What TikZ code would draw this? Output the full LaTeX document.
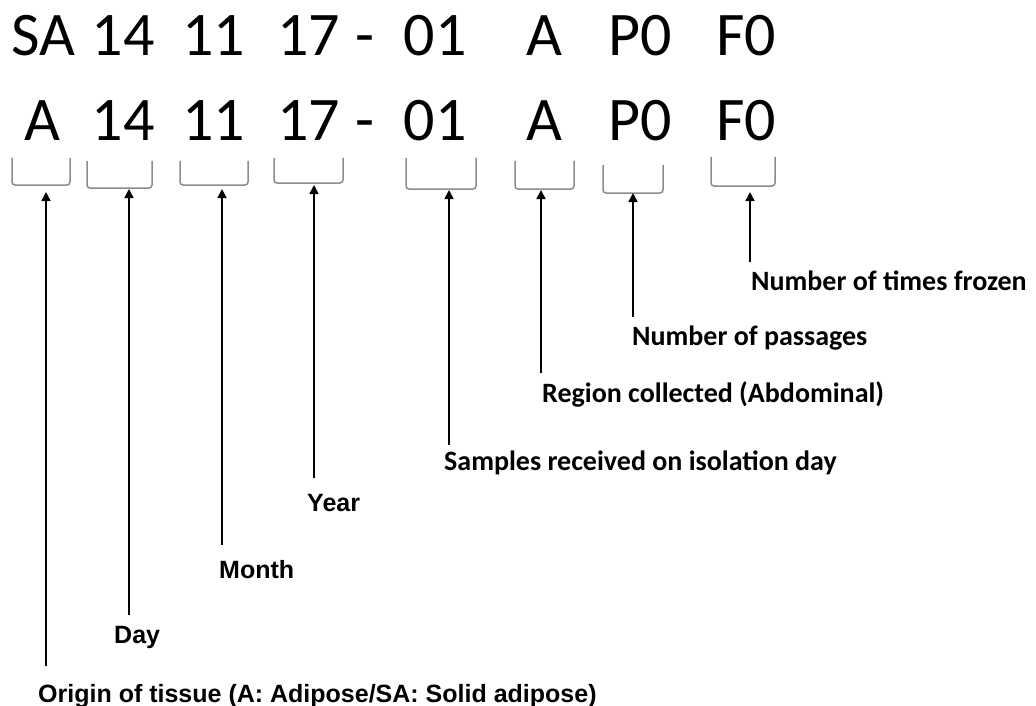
\documentclass[tikz,border=0pt]{standalone}
\usepackage{fontspec}
\setmainfont{Carlito}
\newfontfamily\arialf{Liberation Sans}
\usetikzlibrary{arrows.meta}
\begin{document}
\begin{tikzpicture}[x=1pt,y=-1pt,
  code/.style={inner sep=0pt,anchor=base,font=\fontsize{62}{62}\selectfont},
  brk/.style={draw=black!45,line width=1.5pt,rounded corners=3pt},
  arr/.style={draw=black,line width=1.6pt,-{Triangle[length=9pt,width=9pt]}},
  labc/.style={inner sep=0pt,anchor=base west,font=\fontsize{28}{28}\selectfont\bfseries},
  laba/.style={inner sep=0pt,anchor=base west,font=\arialf\fontsize{25}{25}\selectfont\bfseries}]
\useasboundingbox (0,0) rectangle (1036,706);
% row 1
\node[code] (r1a) at (43.5,56) {SA};
\node[code] (r1b) at (123,56) {14};
\node[code] (r1c) at (213.5,56) {11};
\node[code] (r1d) at (308.5,56) {17};
\node[code] (r1e) at (365,56) {-};
\node[code] (r1f) at (435,56) {01};
\node[code] (r1g) at (544.5,56) {A};
\node[code] (r1h) at (640,56) {P0};
\node[code] (r1i) at (746,56) {F0};
% row 2
\node[code] (r2a) at (42.5,141) {A};
\node[code] (r2b) at (123,141) {14};
\node[code] (r2c) at (213.5,141) {11};
\node[code] (r2d) at (308.5,141) {17};
\node[code] (r2e) at (365,141) {-};
\node[code] (r2f) at (435,141) {01};
\node[code] (r2g) at (544.5,141) {A};
\node[code] (r2h) at (640,141) {P0};
\node[code] (r2i) at (746,141) {F0};
% brackets
\draw[brk] (12,158) -- (12,185) -- (70,185) -- (70,158);
\draw[brk] (87,161) -- (87,188) -- (152,188) -- (152,161);
\draw[brk] (180,161) -- (180,185) -- (248,185) -- (248,161);
\draw[brk] (274,158) -- (274,183) -- (343,183) -- (343,158);
\draw[brk] (406,158) -- (406,189) -- (476,189) -- (476,158);
\draw[brk] (515,161) -- (515,189) -- (574,189) -- (574,161);
\draw[brk] (603,165) -- (603,193) -- (663,193) -- (663,165);
\draw[brk] (711,157) -- (711,186) -- (775,186) -- (775,157);
% labels
\node[laba] (lorigin) at (38,702) {Origin of tissue (A: Adipose/SA: Solid adipose)};
\node[laba] (lday) at (114,643) {Day};
\node[laba] (lmonth) at (219,578) {Month};
\node[laba] (lyear) at (307,511) {Year};
\node[labc] (lsamp) at (444,470) {Samples received on isolation day};
\node[labc] (lreg) at (542,402) {Region collected (Abdominal)};
\node[labc] (lpass) at (632,345) {Number of passages};
\node[labc] (lfroz) at (751,290) {Number of times frozen};
% arrow ends
\coordinate (f1) at (46,666); \coordinate (t1) at (46,192);
\coordinate (f2) at (129,615); \coordinate (t2) at (129,189);
\coordinate (f3) at (222,545); \coordinate (t3) at (222,189);
\coordinate (f4) at (314,478); \coordinate (t4) at (314,185);
\coordinate (f5) at (449,445); \coordinate (t5) at (449,190);
\coordinate (f6) at (541,373); \coordinate (t6) at (541,190);
\coordinate (f7) at (633,317); \coordinate (t7) at (633,193);
\coordinate (f8) at (750,262); \coordinate (t8) at (750,192);
\foreach \i in {1,...,8} {\draw[arr] (f\i) -- (t\i);}
\end{tikzpicture}
\end{document}
